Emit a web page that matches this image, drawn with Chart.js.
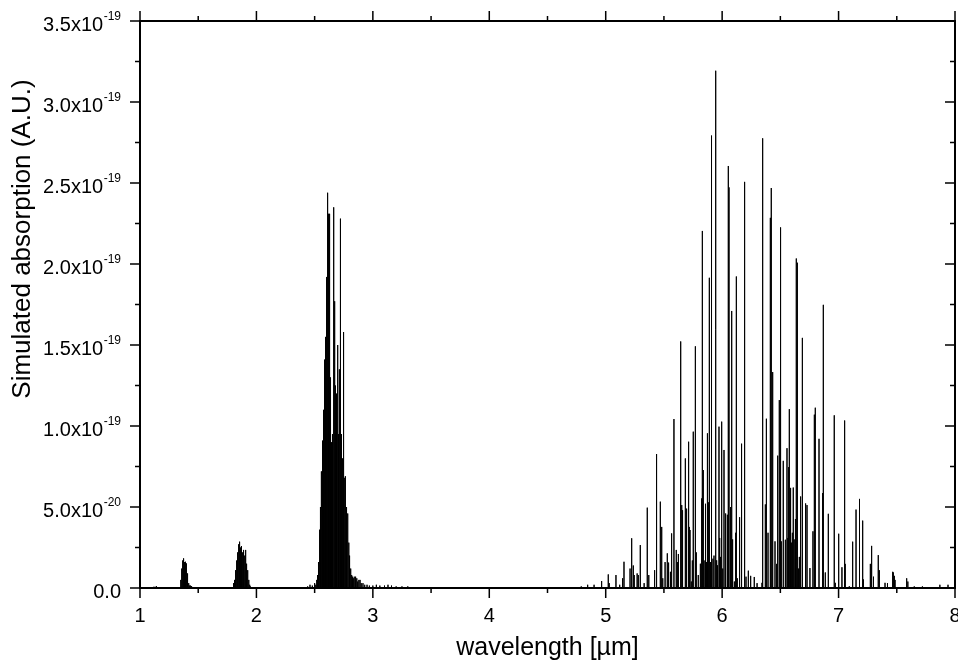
<!DOCTYPE html>
<html><head><meta charset="utf-8">
<script src="https://cdn.jsdelivr.net/npm/chart.js@4/dist/chart.umd.min.js"></script>
<style>html,body{margin:0;padding:0;background:#fff;}canvas{display:block;}</style>
</head><body>
<canvas id="c" width="958" height="661"></canvas>
<script>
// ---- data: wavelengths (µm) and simulated absorption in units of 1e-19 ----
const wlBand1 = [1.12, 1.14, 1.16];
const absBand1 = [0.008, 0.012, 0.006];

const wlBand2 = [1.348,1.352,1.356,1.360,1.364,1.368,1.372,1.376,1.380,1.384,1.388,1.392,1.396,1.400,1.404,1.408,1.412,1.416,1.420,1.425,1.430,1.435,1.440,1.445,1.450];
const absBand2 = [0.02,0.05,0.09,0.12,0.15,0.17,0.183,0.17,0.15,0.16,0.162,0.14,0.152,0.12,0.09,0.07,0.04,0.03,0.02,0.015,0.015,0.01,0.012,0.008,0.005];

const wlBand3 = [1.800,1.806,1.812,1.818,1.823,1.828,1.832,1.836,1.840,1.845,1.849,1.853,1.857,1.861,1.865,1.869,1.873,1.877,1.881,1.885,1.889,1.893,1.897,1.901,1.905,1.909,1.913,1.917,1.922,1.927,1.932,1.936,1.942,1.948,1.955];
const absBand3 = [0.01,0.03,0.05,0.08,0.11,0.14,0.17,0.193,0.22,0.25,0.27,0.286,0.26,0.24,0.25,0.259,0.22,0.20,0.22,0.235,0.20,0.23,0.19,0.20,0.235,0.18,0.15,0.13,0.11,0.08,0.05,0.039,0.02,0.01,0.005];

const wlBand4 = [2.40,2.44,2.46,2.48,2.50,2.51,2.515,2.52,2.525,2.530,2.535,2.540,2.545,2.550,2.555,2.560,2.565,2.570,2.574,2.578,2.583,2.587,2.591,2.595,2.600,2.604,2.609,2.613,2.617,2.621,2.626,2.630,2.634,2.638,2.642,2.646,2.650,2.655,2.660,2.666,2.672,2.676,2.680,2.685,2.690,2.695,2.700,2.705,2.710,2.714,2.718,2.724,2.728,2.732,2.737,2.742,2.746,2.750,2.755,2.761,2.766,2.771,2.776,2.781,2.786,2.791,2.795,2.800,2.806,2.812,2.818,2.825,2.832,2.840,2.847,2.855,2.862,2.870,2.880,2.890,2.900,2.915,2.930,2.950,2.970,3.000,3.030,3.060,3.100,3.130,3.160,3.200,3.250,3.300];
const absBand4 = [0.005,0.01,0.02,0.015,0.03,0.02,0.05,0.04,0.08,0.11,0.16,0.25,0.36,0.50,0.68,0.72,0.80,0.91,0.95,1.10,1.41,1.25,1.45,1.55,1.92,1.60,2.44,1.55,1.70,2.31,2.31,1.58,1.30,1.05,0.90,0.85,0.90,0.95,1.30,2.35,1.77,1.25,1.10,1.00,1.20,1.50,1.10,0.95,1.35,1.05,2.28,1.95,0.95,0.80,0.78,0.80,0.70,1.58,0.68,0.69,0.55,0.50,0.47,0.46,0.35,0.28,0.27,0.20,0.12,0.09,0.08,0.07,0.06,0.07,0.07,0.05,0.06,0.04,0.05,0.05,0.03,0.03,0.02,0.02,0.015,0.015,0.02,0.015,0.015,0.02,0.015,0.01,0.01,0.01];

const wlBand5 = [4.785,4.79,4.845,4.90,4.965,5.022,5.03,5.088,5.12,5.145,5.157,5.209,5.223,5.237,5.245,5.27,5.28,5.297,5.33,5.357,5.37,5.42,5.432,5.44,5.469,5.481,5.49,5.51,5.529,5.54,5.556,5.566,5.586,5.606,5.615,5.624,5.644,5.653,5.66,5.684,5.69,5.698,5.712,5.718,5.724,5.735,5.744,5.752,5.770,5.778,5.795,5.81,5.815,5.824,5.830,5.838,5.845,5.857,5.865,5.870,5.876,5.884,5.890,5.900,5.907,5.910,5.921,5.930,5.9415,5.947,5.953,5.960,5.973,5.979,5.987,5.996,6.005,6.016,6.030,6.045,6.053,6.059,6.068,6.076,6.082,6.090,6.105,6.116,6.122,6.130,6.150,6.162,6.170,6.193,6.205,6.225,6.245,6.276,6.30,6.342,6.348,6.371,6.380,6.394,6.414,6.422,6.434,6.454,6.468,6.477,6.491,6.497,6.505,6.508,6.525,6.543,6.557,6.563,6.565,6.571,6.577,6.583,6.591,6.597,6.603,6.611,6.619,6.626,6.632,6.637,6.646,6.655,6.663,6.674,6.689,6.717,6.729,6.754,6.780,6.792,6.800,6.832,6.863,6.869,6.886,6.912,6.963,6.972,7.001,7.029,7.052,7.057,7.092,7.121,7.150,7.178,7.181,7.207,7.213,7.273,7.284,7.30,7.341,7.35,7.399,7.42,7.465,7.470,7.479,7.485,7.585,7.595,7.65,7.72,7.87,7.94];
const absBand5 = [0.006,0.01,0.02,0.02,0.043,0.084,0.03,0.08,0.02,0.06,0.162,0.12,0.307,0.139,0.08,0.09,0.08,0.265,0.03,0.496,0.08,0.11,0.827,0.064,0.533,0.377,0.06,0.16,0.214,0.157,0.10,0.337,1.043,0.235,0.16,0.21,1.522,0.512,0.48,0.80,0.30,0.49,0.903,0.377,0.358,0.04,0.17,0.965,1.492,0.22,0.08,0.11,0.15,0.553,2.204,0.728,0.17,0.52,0.16,0.533,0.955,0.529,1.915,0.16,2.793,0.192,0.181,0.20,3.193,0.708,0.171,0.14,0.996,0.309,0.192,1.027,0.12,0.852,0.46,0.452,2.605,2.473,0.50,0.497,1.710,0.30,0.04,0.341,1.923,0.06,0.437,0.891,0.085,2.507,0.07,0.107,0.075,0.068,0.03,0.032,2.776,0.516,1.045,0.341,2.285,2.469,1.333,0.288,0.149,0.817,1.16,1.748,2.226,0.288,0.785,0.298,0.863,0.309,0.30,0.746,1.104,0.333,0.618,0.28,0.341,0.62,0.30,0.426,0.18,2.034,2.008,0.12,0.192,0.565,1.544,0.522,0.512,0.123,0.350,1.070,1.113,0.921,0.586,1.748,0.096,0.458,1.066,0.032,0.335,0.128,1.034,0.149,0.011,0.286,0.484,0.181,0.550,0.416,0.053,0.149,0.260,0.07,0.203,0.11,0.032,0.03,0.10,0.096,0.075,0.05,0.06,0.04,0.01,0.01,0.02,0.02];

const UNIT = 1e-19;
const xTickValues = [1,2,3,4,5,6,7,8];
const xTickLabels = ['1','2','3','4','5','6','7','8'];
const yTickValues = [0,0.5,1.0,1.5,2.0,2.5,3.0,3.5];
const yTickLabels = [['0.0',''],['5.0x10','-20'],['1.0x10','-19'],['1.5x10','-19'],['2.0x10','-19'],['2.5x10','-19'],['3.0x10','-19'],['3.5x10','-19']];
const xTitle = 'wavelength [µm]';
const yTitle = 'Simulated absorption (A.U.)';

// build stick spectrum
const allWl = [].concat(wlBand1, wlBand2, wlBand3, wlBand4, wlBand5);
const allAbs = [].concat(absBand1, absBand2, absBand3, absBand4, absBand5);
const order = allWl.map((w,i)=>i).sort((a,b)=>allWl[a]-allWl[b]);
const pts = [];
order.forEach(i => {
  pts.push({x: allWl[i], y: 0});
  pts.push({x: allWl[i], y: allAbs[i]});
  pts.push({x: allWl[i], y: 0});
});

const FONT = 'Arial, "Liberation Sans", sans-serif';

const framePlugin = {
  id: 'frame',
  afterDraw(chart) {
    const ctx = chart.ctx;
    const xs = chart.scales.x, ys = chart.scales.y;
    const L = chart.chartArea.left, R = chart.chartArea.right, T = chart.chartArea.top, B = chart.chartArea.bottom;
    ctx.save();
    ctx.strokeStyle = '#000';
    ctx.lineWidth = 2;
    ctx.strokeRect(L, T, R - L, B - T);
    ctx.lineWidth = 1.5;
    const MAJ = 10, MIN = 5;
    ctx.beginPath();
    xTickValues.forEach((v, i) => {
      const px = xs.getPixelForValue(v);
      ctx.moveTo(px, B); ctx.lineTo(px, B + MAJ);
      ctx.moveTo(px, T); ctx.lineTo(px, T - MAJ);
      if (i < xTickValues.length - 1) {
        const m = xs.getPixelForValue((v + xTickValues[i+1]) / 2);
        ctx.moveTo(m, B); ctx.lineTo(m, B + MIN);
        ctx.moveTo(m, T); ctx.lineTo(m, T - MIN);
      }
    });
    yTickValues.forEach((v, i) => {
      const py = ys.getPixelForValue(v);
      ctx.moveTo(L, py); ctx.lineTo(L - MAJ, py);
      ctx.moveTo(R, py); ctx.lineTo(R - MAJ, py);
      if (i < yTickValues.length - 1) {
        const m = ys.getPixelForValue((v + yTickValues[i+1]) / 2);
        ctx.moveTo(L, m); ctx.lineTo(L - MIN, m);
        ctx.moveTo(R, m); ctx.lineTo(R - MIN, m);
      }
    });
    ctx.stroke();

    ctx.fillStyle = '#000';
    ctx.font = '20px ' + FONT;
    ctx.textAlign = 'center';
    ctx.textBaseline = 'alphabetic';
    xTickValues.forEach((v, i) => {
      ctx.fillText(xTickLabels[i], xs.getPixelForValue(v), B + 34);
    });
    const rightEdge = L - 19;
    yTickValues.forEach((v, i) => {
      const py = ys.getPixelForValue(v);
      const [main, sup] = yTickLabels[i];
      ctx.font = '12px ' + FONT;
      const sw = sup ? ctx.measureText(sup).width : 0;
      ctx.textAlign = 'left';
      if (sup) ctx.fillText(sup, rightEdge - sw, py - 1.5);
      ctx.font = '20px ' + FONT;
      ctx.textAlign = 'right';
      ctx.fillText(main, rightEdge - sw - (sup ? 0.5 : 0), py + 10);
    });
    ctx.font = '25px ' + FONT;
    ctx.textAlign = 'center';
    ctx.fillText(xTitle, (L + R) / 2, B + 67);
    ctx.save();
    ctx.translate(30, 239);
    ctx.rotate(-Math.PI / 2);
    ctx.font = '26px ' + FONT;
    ctx.fillText(yTitle, 0, 0);
    ctx.restore();
    ctx.restore();
  }
};

new Chart(document.getElementById('c'), {
  type: 'line',
  data: {
    datasets: [{
      data: pts,
      borderColor: '#000',
      borderWidth: 1,
      pointRadius: 0,
      tension: 0,
      fill: false
    }]
  },
  options: {
    responsive: false,
    animation: false,
    devicePixelRatio: 1,
    layout: { padding: { left: 140, right: 3, top: 21, bottom: 73 } },
    plugins: { legend: { display: false }, tooltip: { enabled: false } },
    scales: {
      x: {
        type: 'linear', min: 1, max: 8,
        ticks: { display: false },
        grid: { display: false, drawTicks: false },
        border: { display: false },
        afterBuildTicks: s => { s.ticks = xTickValues.map(v => ({ value: v })); }
      },
      y: {
        type: 'linear', min: 0, max: 3.5,
        ticks: { display: false },
        grid: { display: false, drawTicks: false },
        border: { display: false },
        afterBuildTicks: s => { s.ticks = yTickValues.map(v => ({ value: v })); }
      }
    }
  },
  plugins: [framePlugin]
});
</script>
</body></html>
